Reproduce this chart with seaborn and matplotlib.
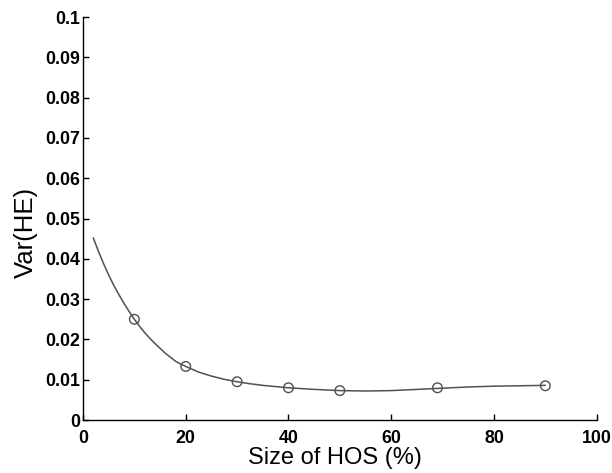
import matplotlib
matplotlib.use("Agg")
import matplotlib.pyplot as plt
import seaborn as sns
import pandas as pd

# measured points
hos_size = [10, 20, 30, 40, 50, 69, 90]
var_he = [0.0250, 0.0133, 0.0095, 0.0080, 0.0073, 0.0080, 0.0085]

# fitted curve
curve_x = [2, 3, 4, 5, 6, 7, 8, 9, 10, 11, 12, 13, 14, 15, 16, 17, 18, 19, 20,
           22.5, 25, 27.5, 30, 32.5, 35, 37.5, 40, 45, 50, 55, 60, 65, 70, 75,
           80, 85, 90]
curve_y = [0.0452, 0.0419, 0.0388, 0.0360, 0.0334, 0.0311, 0.0289, 0.0269,
           0.0250, 0.0233, 0.0217, 0.0203, 0.0190, 0.0178, 0.0166, 0.0156,
           0.0146, 0.0139, 0.0133, 0.0119, 0.0109, 0.0101, 0.0095, 0.0090,
           0.0086, 0.0083, 0.0080, 0.0076, 0.0073, 0.0072, 0.0073, 0.0076,
           0.0079, 0.0082, 0.0084, 0.0085, 0.0086]

x_ticks = [0, 20, 40, 60, 80, 100]
y_ticks = [0, 0.01, 0.02, 0.03, 0.04, 0.05, 0.06, 0.07, 0.08, 0.09, 0.1]
y_tick_labels = ["0", "0.01", "0.02", "0.03", "0.04", "0.05", "0.06", "0.07",
                 "0.08", "0.09", "0.1"]

sns.set_theme(style="ticks")
plt.rcParams["font.family"] = ["Liberation Sans", "DejaVu Sans"]

fig = plt.figure(figsize=(6.12, 4.73), dpi=100)
ax = fig.add_axes([0.1356, 0.112, 0.8394, 0.852])

pts = pd.DataFrame({"x": hos_size, "y": var_he})
cur = pd.DataFrame({"x": curve_x, "y": curve_y})

col = "#505050"
sns.lineplot(data=cur, x="x", y="y", ax=ax, color=col, linewidth=1.1)
sns.scatterplot(data=pts, x="x", y="y", ax=ax, s=48, facecolors="none",
                edgecolor=col, linewidth=1.0, marker="o", zorder=3)

ax.set_xlim(0, 100)
ax.set_ylim(0, 0.1)
ax.set_xticks(x_ticks)
ax.set_xticklabels([str(t) for t in x_ticks])
ax.set_yticks(y_ticks)
ax.set_yticklabels(y_tick_labels)
for lab in ax.get_xticklabels() + ax.get_yticklabels():
    lab.set_fontweight("bold")
    lab.set_fontsize(12.8)
    lab.set_color("black")

ax.tick_params(direction="in", length=4, width=1, colors="black")
ax.tick_params(axis="x", pad=7)
ax.tick_params(axis="y", pad=2)
ax.set_xlabel("Size of HOS (%)", fontsize=17, color="black")
ax.set_ylabel("Var(HE)", fontsize=18.5, color="black")
ax.xaxis.set_label_coords(0.49, -0.068)
ax.yaxis.set_label_coords(-0.087, 0.466)

sns.despine(ax=ax)
for s in ["left", "bottom"]:
    ax.spines[s].set_color("black")
    ax.spines[s].set_linewidth(1.0)

fig.savefig("out.png", dpi=100)
